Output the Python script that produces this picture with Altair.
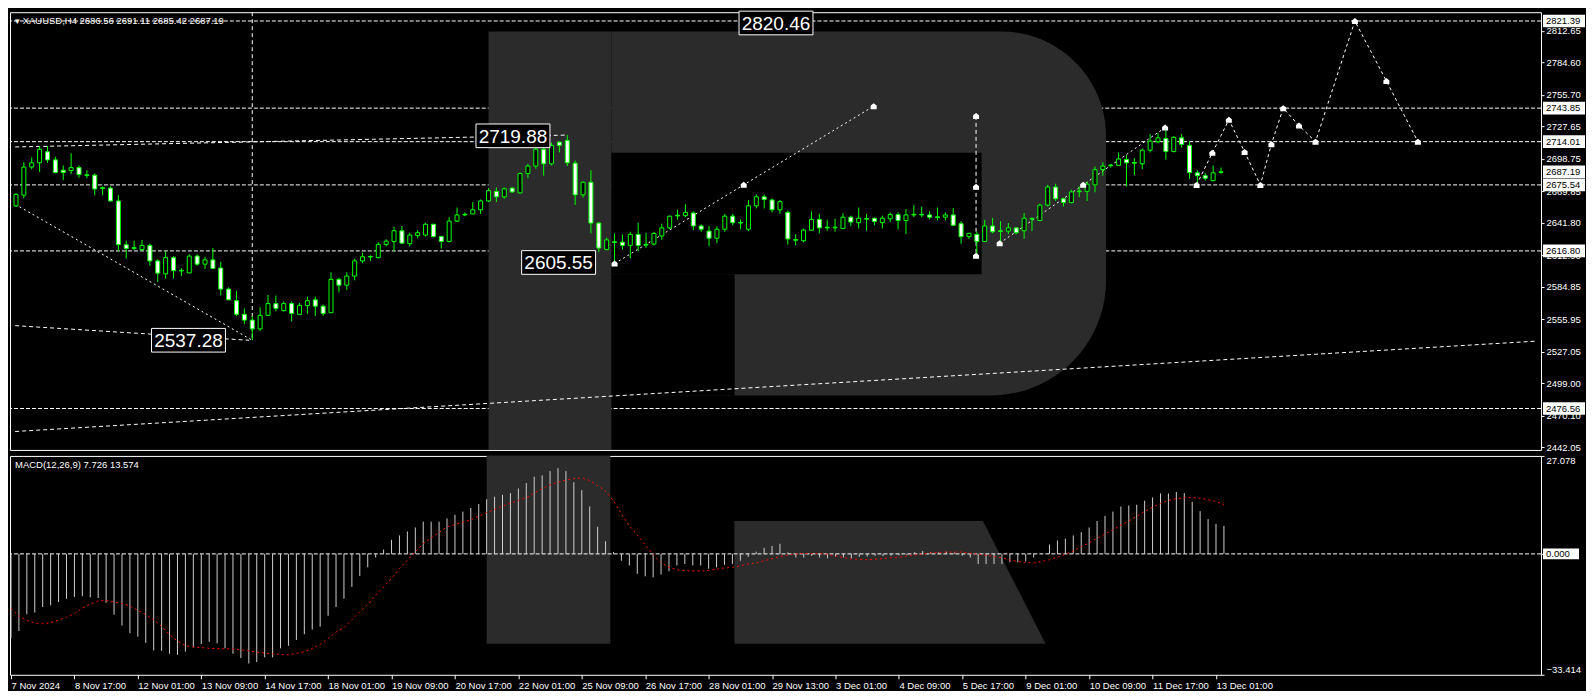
import json
import altair as alt
import pandas as pd

# ---------------- data ----------------
opens = [
    2656.9, 2666.4, 2691.4, 2695.2, 2705.0, 2697.8, 2688.6, 2688.3, 2690.9, 2684.5,
    2684.2, 2673.0, 2672.7, 2661.2, 2622.3, 2619.7, 2618.0, 2621.7, 2607.9, 2596.4,
    2610.8, 2599.5, 2597.2, 2612.2, 2605.0, 2608.8, 2601.6, 2582.8, 2572.5, 2560.4,
    2555.2, 2547.4, 2559.5, 2569.9, 2563.8, 2569.9, 2560.4, 2568.1, 2573.3, 2567.6,
    2561.8, 2591.5, 2586.3, 2594.4, 2607.9, 2611.9, 2610.8, 2622.6, 2625.2, 2634.7,
    2623.2, 2630.4, 2630.9, 2640.5, 2629.5, 2625.2, 2643.3, 2649.4, 2649.7, 2653.4,
    2661.2, 2669.8, 2664.9, 2672.7, 2668.4, 2685.7, 2692.3, 2707.3, 2694.3, 2713.6,
    2715.1, 2694.9, 2666.7, 2677.9, 2641.6, 2618.0, 2624.9, 2624.6, 2621.7, 2631.5,
    2622.6, 2622.9, 2630.1, 2637.3, 2648.5, 2648.2, 2650.5, 2639.0, 2634.4, 2628.1,
    2636.1, 2647.7, 2642.2, 2636.1, 2656.9, 2664.9, 2662.1, 2653.4, 2651.1, 2626.9,
    2625.8, 2635.3, 2644.8, 2637.9, 2637.3, 2636.7, 2646.8, 2641.9, 2645.6, 2645.9,
    2641.9, 2645.4, 2649.1, 2643.9, 2648.8, 2649.4, 2648.8, 2647.1, 2646.8, 2648.8,
    2641.0, 2629.5, 2631.5, 2625.2, 2639.0, 2634.7, 2634.4, 2637.3, 2634.7, 2645.6,
    2643.9, 2657.5, 2673.6, 2663.2, 2659.8, 2669.5, 2669.8, 2675.6, 2689.1, 2692.6,
    2692.9, 2698.1, 2695.5, 2694.3, 2706.4, 2713.9, 2716.8, 2705.3, 2717.4, 2710.7,
    2686.3, 2683.7, 2679.3, 2686.56,
]
highs = [
    2668.4, 2695.8, 2700.1, 2710.2, 2710.2, 2700.7, 2692.9, 2703.8, 2692.9, 2688.6,
    2685.7, 2674.2, 2674.2, 2666.4, 2626.0, 2626.0, 2626.6, 2623.2, 2609.3, 2616.5,
    2612.2, 2601.6, 2613.7, 2613.7, 2611.6, 2619.4, 2607.0, 2584.3, 2581.1, 2565.6,
    2558.9, 2566.7, 2577.7, 2577.1, 2571.9, 2571.9, 2570.5, 2576.2, 2576.2, 2569.0,
    2597.8, 2592.9, 2597.8, 2609.9, 2615.1, 2612.8, 2624.6, 2627.2, 2638.2, 2639.0,
    2633.0, 2635.3, 2641.9, 2641.0, 2630.4, 2646.8, 2655.4, 2651.1, 2660.3, 2662.6,
    2672.7, 2673.3, 2673.3, 2673.6, 2686.5, 2694.3, 2710.2, 2710.2, 2713.1, 2714.5,
    2719.9, 2697.2, 2678.5, 2688.6, 2642.5, 2628.6, 2632.4, 2631.5, 2633.8, 2641.9,
    2633.0, 2633.8, 2641.0, 2648.2, 2653.4, 2658.3, 2652.0, 2640.5, 2639.0, 2638.7,
    2649.7, 2649.7, 2644.8, 2662.1, 2667.0, 2667.0, 2663.5, 2662.1, 2652.6, 2631.5,
    2636.7, 2652.0, 2649.7, 2644.5, 2645.4, 2650.3, 2648.2, 2655.4, 2649.7, 2646.2,
    2648.2, 2651.1, 2651.1, 2654.0, 2657.5, 2656.3, 2652.0, 2655.4, 2651.1, 2654.9,
    2643.3, 2633.0, 2633.8, 2644.5, 2646.2, 2643.3, 2641.6, 2637.6, 2650.5, 2646.8,
    2658.9, 2675.6, 2676.5, 2664.1, 2671.3, 2674.2, 2678.5, 2692.0, 2695.8, 2694.3,
    2704.4, 2702.1, 2699.5, 2707.9, 2720.8, 2721.7, 2724.6, 2718.8, 2720.8, 2714.5,
    2688.6, 2686.3, 2692.9, 2691.11,
]
lows = [
    2656.0, 2663.5, 2689.4, 2687.1, 2695.2, 2685.7, 2679.9, 2685.1, 2681.9, 2681.4,
    2666.4, 2666.4, 2660.6, 2616.5, 2610.2, 2617.4, 2616.5, 2603.6, 2589.2, 2592.1,
    2592.1, 2594.4, 2597.0, 2603.6, 2600.7, 2600.7, 2577.1, 2572.8, 2558.9, 2551.7,
    2537.3, 2545.4, 2558.9, 2563.2, 2562.7, 2554.0, 2559.8, 2560.9, 2558.9, 2558.9,
    2561.5, 2580.0, 2582.0, 2590.6, 2605.9, 2607.9, 2610.2, 2620.9, 2616.5, 2622.9,
    2620.9, 2628.1, 2629.5, 2628.9, 2618.9, 2624.3, 2642.5, 2647.7, 2649.6, 2649.7,
    2660.3, 2660.3, 2663.2, 2668.4, 2667.8, 2681.4, 2690.0, 2683.7, 2692.9, 2704.4,
    2692.3, 2657.7, 2664.1, 2632.4, 2615.7, 2617.4, 2605.6, 2618.0, 2610.2, 2616.5,
    2619.4, 2621.7, 2626.6, 2636.1, 2644.5, 2646.8, 2635.3, 2633.8, 2620.9, 2623.7,
    2633.8, 2639.6, 2636.1, 2634.4, 2654.6, 2654.6, 2651.1, 2649.7, 2622.3, 2621.7,
    2624.6, 2634.7, 2632.4, 2634.7, 2633.8, 2636.1, 2638.7, 2636.7, 2634.7, 2639.6,
    2636.7, 2642.5, 2636.1, 2631.8, 2646.8, 2646.8, 2644.8, 2643.9, 2643.9, 2639.0,
    2623.2, 2627.5, 2612.2, 2624.6, 2632.4, 2624.6, 2631.8, 2631.5, 2627.5, 2634.4,
    2643.3, 2656.3, 2661.2, 2656.3, 2658.9, 2664.7, 2661.2, 2669.0, 2683.7, 2690.9,
    2692.3, 2674.2, 2684.2, 2689.4, 2704.4, 2712.5, 2698.1, 2704.4, 2708.7, 2680.8,
    2675.6, 2679.3, 2679.1, 2685.42,
]
closes = [
    2667.0, 2691.4, 2695.2, 2707.3, 2697.8, 2686.5, 2686.5, 2690.9, 2684.8, 2684.0,
    2671.9, 2672.4, 2661.2, 2622.3, 2618.9, 2619.1, 2621.7, 2607.9, 2597.0, 2610.8,
    2599.3, 2599.0, 2612.2, 2605.0, 2608.8, 2601.3, 2582.8, 2573.3, 2560.4, 2555.2,
    2547.4, 2559.5, 2569.9, 2565.6, 2569.9, 2561.2, 2568.4, 2572.5, 2567.6, 2561.2,
    2591.5, 2586.3, 2594.4, 2607.9, 2611.6, 2611.4, 2622.6, 2625.5, 2634.7, 2623.7,
    2630.9, 2633.0, 2640.5, 2629.5, 2625.2, 2643.3, 2648.8, 2648.8, 2653.4, 2661.2,
    2670.4, 2664.9, 2672.1, 2669.3, 2685.7, 2692.3, 2707.3, 2694.3, 2710.7, 2710.7,
    2695.2, 2666.7, 2677.9, 2641.6, 2619.4, 2626.6, 2624.3, 2621.7, 2631.5, 2621.7,
    2622.0, 2632.4, 2637.3, 2647.7, 2647.9, 2651.1, 2639.0, 2636.1, 2628.1, 2636.1,
    2647.7, 2641.9, 2641.6, 2656.9, 2664.9, 2662.6, 2653.4, 2660.6, 2627.5, 2626.3,
    2635.3, 2644.8, 2637.3, 2637.3, 2637.9, 2646.8, 2642.5, 2645.9, 2645.1, 2643.0,
    2645.9, 2649.1, 2643.9, 2648.8, 2649.4, 2648.8, 2646.8, 2646.5, 2648.8, 2639.6,
    2629.5, 2632.4, 2625.2, 2639.0, 2633.8, 2634.1, 2637.3, 2633.0, 2645.9, 2645.1,
    2657.5, 2673.6, 2663.2, 2659.8, 2669.3, 2670.1, 2676.2, 2689.1, 2692.3, 2693.2,
    2698.6, 2695.2, 2694.9, 2706.4, 2714.5, 2717.4, 2705.3, 2717.9, 2711.6, 2686.5,
    2683.7, 2681.4, 2686.3, 2687.19,
]
macd_hist = [
    -23.2, -21.3, -16.7, -16.2, -14.7, -14.2, -13.3, -12.4, -11.9, -11.7,
    -12.0, -12.2, -13.5, -16.8, -19.8, -21.9, -22.9, -24.6, -26.7, -26.8,
    -27.6, -27.9, -27.0, -25.9, -24.9, -24.3, -24.7, -26.1, -27.6, -28.8,
    -30.3, -29.9, -28.6, -28.6, -26.1, -25.4, -23.8, -22.2, -20.9, -20.1,
    -17.1, -14.7, -12.4, -9.1, -6.1, -3.7, -1.0, 1.2, 3.9, 5.1,
    6.2, 7.3, 8.9, 8.9, 8.9, 9.8, 10.8, 11.7, 12.7, 13.8,
    15.1, 15.8, 16.3, 16.8, 18.1, 19.6, 21.3, 21.7, 22.9, 23.7,
    22.9, 19.8, 17.6, 13.1, 7.5, 3.5, 0.5, -1.9, -3.2, -5.5,
    -6.2, -6.5, -5.7, -4.8, -3.2, -2.8, -3.2, -3.2, -4.1, -3.7,
    -3.0, -2.8, -1.9, -0.8, 0.6, 1.7, 2.2, 2.8, 0.4, -1.0,
    -1.0, -0.5, -1.0, -1.2, -0.7, -1.0, -1.2, -0.8, -0.7, -0.5,
    -0.6, -0.5, -0.4, -0.3, 0.5, 0.8, 0.5, 0.4, 0.6, 0.4,
    -0.5, -1.0, -2.8, -2.8, -2.8, -2.8, -2.3, -2.3, -2.1, -1.0,
    0.1, 2.6, 3.7, 4.2, 5.1, 6.0, 7.3, 9.1, 10.5, 11.7,
    13.1, 13.4, 13.6, 14.7, 15.6, 16.7, 16.7, 17.1, 16.8, 14.4,
    11.8, 9.6, 8.3, 7.726,
]
macd_signal = [
    -15.1, -17.2, -18.4, -19.1, -19.3, -19.0, -18.3, -17.5, -16.5, -15.0,
    -13.9, -13.0, -12.9, -13.3, -13.7, -14.4, -15.6, -16.8, -18.2, -20.0,
    -22.3, -24.1, -25.4, -25.7, -25.9, -26.1, -26.2, -26.2, -26.3, -26.5,
    -26.8, -27.2, -27.4, -27.6, -27.8, -27.9, -27.5, -27.0, -26.2, -25.0,
    -23.4, -21.6, -20.4, -18.2, -16.0, -14.0, -11.4, -9.1, -6.8, -4.0,
    -1.7, 0.6, 2.8, 4.4, 5.9, 7.5, 8.1, 8.8, 9.4, 10.4,
    11.4, 12.3, 13.2, 14.0, 14.8, 15.5, 16.8, 18.0, 19.1, 19.8,
    20.4, 20.8, 21.0, 20.3, 18.9, 17.3, 14.7, 11.1, 7.8, 5.2,
    2.5, -0.2, -2.4, -3.7, -4.4, -4.6, -4.7, -4.7, -4.6, -4.2,
    -3.9, -3.7, -3.3, -2.8, -2.5, -1.9, -1.3, -0.7, -0.3, 0.0,
    0.1, 0.1, 0.1, -0.1, -0.6, -1.0, -1.4, -1.5, -1.6, -1.5,
    -1.3, -1.1, -0.9, -0.6, -0.3, 0.0, 0.3, 0.4, 0.5, 0.5,
    0.5, 0.2, -0.1, -0.4, -0.7, -1.1, -1.7, -2.1, -2.4, -2.5,
    -2.1, -1.6, -0.9, -0.1, 0.8, 2.0, 3.1, 4.3, 5.5, 6.7,
    7.9, 9.1, 10.4, 11.7, 12.9, 13.9, 14.8, 15.3, 15.5, 15.6,
    15.4, 15.0, 14.5, 13.574,
]
date_labels = [
    "7 Nov 2024", "8 Nov 17:00", "12 Nov 01:00", "13 Nov 09:00", "14 Nov 17:00",
    "18 Nov 01:00", "19 Nov 09:00", "20 Nov 17:00", "22 Nov 01:00", "25 Nov 09:00",
    "26 Nov 17:00", "28 Nov 01:00", "29 Nov 13:00", "3 Dec 01:00", "4 Dec 09:00",
    "5 Dec 17:00", "9 Dec 01:00", "10 Dec 09:00", "11 Dec 17:00", "13 Dec 01:00",
]
price_ticks = [2812.65, 2784.60, 2755.70, 2727.65, 2698.75, 2669.85, 2641.80,
               2612.90, 2584.85, 2555.95, 2527.05, 2499.00, 2470.10, 2442.05]
level_lines = [2821.39, 2743.85, 2714.01, 2675.54, 2616.80, 2476.56]
marked_prices = [2821.39, 2743.85, 2714.01, 2687.19, 2675.54, 2616.80, 2476.56]
macd_ticks = [27.078, 0.0, -33.414]

callout_text = ["2820.46", "2719.88", "2605.55", "2537.28"]
callout_bar = [96.5, 63.1, 68.9, 21.9]
callout_price = [2819.6, 2719.2, 2606.5, 2537.3]

# drawn trend lines (bar index, price)
dotted_lines = {
    "A": ([-0.1, 30.0], [2658.3, 2537.28]),
    "F": ([76.0, 92.4, 108.9], [2605.55, 2675.6, 2745.6]),
    "H": ([124.9, 135.5, 145.9], [2623.7, 2675.6, 2726.6]),
}
dashed_lines = {
    "B": ([-0.1, 29.6], [2550.3, 2537.28]),
    "C": ([-0.1, 193.0], [2456.1, 2536.5]),
    "D": ([-0.1, 70.0], [2709.3, 2719.88]),
    "V": ([30.0, 30.0], [2829.2, 2537.28]),
    "G": ([121.9, 121.9], [2736.95, 2612.5]),
}
forecast_bar = [149.9, 151.9, 154.0, 156.0, 158.0, 159.4, 160.9, 162.9, 165.0, 170.0, 174.0, 178.0]
forecast_price = [2675.54, 2704.1, 2733.5, 2704.9, 2675.54, 2711.8, 2743.85, 2728.3, 2714.01, 2821.39, 2768.0, 2714.01]
marker_bar = [76.0, 92.4, 108.9, 121.9, 121.9, 121.9, 124.9, 135.5, 145.9]
marker_price = [2605.55, 2675.6, 2745.6, 2736.95, 2673.8, 2612.5, 2623.7, 2675.6, 2726.6]

# watermark "R" outline in (bar, price) / (bar, macd) units
wm_stem_bars = [60.0, 75.6]
wm_bowl_bars = [75.6, 138.4]
wm_bowl_prices = [2488.1, 2812.14]
wm_cut_bars = [[75.6, 122.6], [75.6, 91.25]]
wm_cut_prices = [[2596.1, 2704.1], [2488.1, 2596.1]]
wm_stem_macd_bottom = -24.81
wm_leg_bars = [91.25, 122.6, 130.5]
wm_leg_top = [9.06, 9.06, -24.81]

# ---------------- layout / style ----------------
W, HU, HL = 1532, 438, 219
X_DOMAIN = [-0.125, 193.0]
P_DOMAIN = [2439.7, 2829.2]
M_DOMAIN = [-33.414, 27.078]
GREEN = "#00ff00"
GRAY = "#2b2b2b"
FONT = "Liberation Sans"
FS = 9.5

xs = alt.Scale(domain=X_DOMAIN, nice=False, zero=False)
ps = alt.Scale(domain=P_DOMAIN, nice=False, zero=False)
ms = alt.Scale(domain=M_DOMAIN, nice=False, zero=False)

price_axis = alt.Axis(orient="right", values=price_ticks, format=".2f", labelColor="#ffffff",
                      tickColor="#ffffff", tickSize=3, labelFont=FONT, labelFontSize=FS,
                      domain=False, grid=False, labelPadding=2, title=None, labelOverlap=False)
macd_axis = alt.Axis(orient="right", values=macd_ticks, format=".3f", labelColor="#ffffff",
                     tickColor="#ffffff", tickSize=3, labelFont=FONT, labelFontSize=FS,
                     domain=False, grid=False, labelPadding=2, title=None, labelFlush=True,
                     labelOverlap=False)
labels_js = json.dumps(date_labels)
date_axis = alt.Axis(orient="bottom", values=list(range(0, 8 * len(date_labels), 8)),
                     labelExpr=f"{labels_js}[round(datum.value / 8)]", labelAlign="left",
                     labelColor="#ffffff", tickColor="#ffffff", tickSize=4, labelPadding=2,
                     labelFont=FONT, labelFontSize=FS, domain=False, grid=False, title=None,
                     labelOverlap=False)


def xu(f):
    return alt.X(f"{f}:Q", scale=xs, axis=None)


def xl(f):
    return alt.X(f"{f}:Q", scale=xs, axis=date_axis)


def pq(f):
    return alt.Y(f"{f}:Q", scale=ps, axis=price_axis)


def mq(f):
    return alt.Y(f"{f}:Q", scale=ms, axis=macd_axis)


n = len(opens)
candles = pd.DataFrame({"b": list(range(n)), "o": opens, "h": highs, "l": lows, "c": closes})
candles["lo"] = candles[["o", "c"]].min(axis=1)
candles["hi"] = candles[["o", "c"]].max(axis=1)
candles["fill"] = ["#000000" if c >= o else "#ffffff" for o, c in zip(opens, closes)]

# ---------- upper panel ----------
wm_stem_up = alt.Chart(pd.DataFrame({"x": [wm_stem_bars[0]], "x2": [wm_stem_bars[1]],
                                      "y": [P_DOMAIN[0]], "y2": [wm_bowl_prices[1]]})).mark_rect(
    color=GRAY).encode(x=xu("x"), x2="x2:Q", y=pq("y"), y2="y2:Q")
wm_bowl = alt.Chart(pd.DataFrame({"x": [wm_bowl_bars[0]], "x2": [wm_bowl_bars[1]],
                                   "y": [wm_bowl_prices[0]], "y2": [wm_bowl_prices[1]]})).mark_rect(
    color=GRAY, cornerRadiusTopRight=105, cornerRadiusBottomRight=115).encode(
    x=xu("x"), x2="x2:Q", y=pq("y"), y2="y2:Q")
wm_cut = alt.Chart(pd.DataFrame({"x": [c[0] for c in wm_cut_bars], "x2": [c[1] for c in wm_cut_bars],
                                  "y": [c[0] for c in wm_cut_prices], "y2": [c[1] for c in wm_cut_prices]})).mark_rect(
    color="#000000").encode(x=xu("x"), x2="x2:Q", y=pq("y"), y2="y2:Q")

levels = alt.Chart(pd.DataFrame({"p": level_lines})).mark_rule(
    color="#ffffff", strokeDash=[4, 2], strokeWidth=1).encode(y=pq("p"))


def lines_df(d):
    rows = []
    for key, (bs, prs) in d.items():
        for k, (b, p) in enumerate(zip(bs, prs)):
            rows.append({"id": key, "k": k, "b": b, "p": p})
    return pd.DataFrame(rows)


dotted = alt.Chart(lines_df(dotted_lines)).mark_line(
    color="#ffffff", strokeDash=[2, 3], strokeWidth=1).encode(
    x=xu("b"), y=pq("p"), detail="id:N", order="k:Q")
dashed = alt.Chart(lines_df(dashed_lines)).mark_line(
    color="#ffffff", strokeDash=[4, 3], strokeWidth=1).encode(
    x=xu("b"), y=pq("p"), detail="id:N", order="k:Q")

wicks = alt.Chart(candles).mark_rule(color=GREEN, strokeWidth=1).encode(
    x=xu("b"), y=pq("l"), y2="h:Q")
bodies = alt.Chart(candles).mark_bar(size=4, stroke=GREEN, strokeWidth=1).encode(
    x=xu("b"), y=pq("lo"), y2="hi:Q", fill=alt.Fill("fill:N", scale=None))

forecast_df = pd.DataFrame({"b": forecast_bar, "p": forecast_price, "k": list(range(len(forecast_bar)))})
forecast = alt.Chart(forecast_df).mark_line(
    color="#ffffff", strokeDash=[3, 3], strokeWidth=1).encode(x=xu("b"), y=pq("p"), order="k:Q")

HOUSE = "M0,-1L1,-0.2L1,1L-1,1L-1,-0.2Z"
marks_df = pd.DataFrame({"b": marker_bar + forecast_bar, "p": marker_price + forecast_price})
markers = alt.Chart(marks_df).mark_point(
    shape=HOUSE, filled=True, color="#ffffff", size=36, opacity=1).encode(x=xu("b"), y=pq("p"))

call_df = pd.DataFrame({"b": callout_bar, "p": callout_price, "t": callout_text})
call_box = alt.Chart(call_df).mark_point(
    shape="M-1,-0.32H1V0.32H-1Z", size=74 * 74, filled=True, fill="#000000",
    stroke="#ffffff", strokeWidth=1, opacity=1).encode(x=xu("b"), y=pq("p"))
call_txt = alt.Chart(call_df).mark_text(
    color="#ffffff", font=FONT, fontSize=19, align="center", baseline="middle", dy=1).encode(
    x=xu("b"), y=pq("p"), text="t:N")

mk_df = pd.DataFrame({"p": marked_prices, "t": [f"{v:.2f}" for v in marked_prices]})
mk_box = alt.Chart(mk_df).mark_point(
    shape="M-1,-0.3H1V0.3H-1Z", size=42 * 42, filled=True, color="#ffffff", opacity=1).encode(
    x=alt.value(W + 23), y=pq("p"))
mk_txt = alt.Chart(mk_df).mark_text(
    color="#000000", font=FONT, fontSize=FS, align="left", baseline="middle").encode(
    x=alt.value(W + 5), y=pq("p"), text="t:N")

title_up = alt.Chart(pd.DataFrame({"t": ["\u25be  XAUUSD,H4  2686.56 2691.11 2685.42 2687.19"]})).mark_text(
    color="#ffffff", font=FONT, fontSize=FS, align="left", baseline="middle").encode(
    x=alt.value(5), y=alt.value(9), text="t:N")

upper = alt.layer(
    levels, wm_stem_up, wm_bowl, wm_cut, dashed, dotted, wicks, bodies,
    forecast, markers, call_box, call_txt, mk_box, mk_txt, title_up,
).properties(width=W, height=HU)

# ---------- lower (MACD) panel ----------
macd_df = pd.DataFrame({"b": list(range(n)), "h": macd_hist, "s": macd_signal, "z": [0.0] * n})
hist = alt.Chart(macd_df).mark_rule(color="#cfcfcf", strokeWidth=1).encode(
    x=xl("b"), y=mq("z"), y2="h:Q")

wm_stem_lo = alt.Chart(pd.DataFrame({"x": [wm_stem_bars[0]], "x2": [wm_stem_bars[1]],
                                      "y": [wm_stem_macd_bottom], "y2": [M_DOMAIN[1]]})).mark_rect(
    color=GRAY).encode(x=xl("x"), x2="x2:Q", y=mq("y"), y2="y2:Q")
wm_leg = alt.Chart(pd.DataFrame({"x": wm_leg_bars, "top": wm_leg_top,
                                  "bot": [wm_stem_macd_bottom] * len(wm_leg_bars)})).mark_area(
    color=GRAY, opacity=1).encode(x=xl("x"), y=mq("top"), y2="bot:Q")

zero_line = alt.Chart(pd.DataFrame({"v": [0.0]})).mark_rule(
    color="#ffffff", strokeDash=[4, 2], strokeWidth=1).encode(y=mq("v"))
signal = alt.Chart(macd_df).mark_line(color="#ff0000", strokeDash=[2, 3], strokeWidth=1).encode(
    x=xl("b"), y=mq("s"))

zero_box = alt.Chart(pd.DataFrame({"v": [0.0], "t": ["0.000"]})).mark_point(
    shape="M-1,-0.3H1V0.3H-1Z", size=36 * 36, filled=True, color="#ffffff", opacity=1).encode(
    x=alt.value(W + 20), y=mq("v"))
zero_txt = alt.Chart(pd.DataFrame({"v": [0.0], "t": ["0.000"]})).mark_text(
    color="#000000", font=FONT, fontSize=FS, align="left", baseline="middle").encode(
    x=alt.value(W + 5), y=mq("v"), text="t:N")
title_lo = alt.Chart(pd.DataFrame({"t": ["MACD(12,26,9) 7.726 13.574"]})).mark_text(
    color="#ffffff", font=FONT, fontSize=FS, align="left", baseline="middle").encode(
    x=alt.value(5), y=alt.value(9), text="t:N")

lower = alt.layer(
    hist, wm_stem_lo, wm_leg, zero_line, signal, zero_box, zero_txt, title_lo,
).properties(width=W, height=HL)

# redraw histogram above the watermark: put watermark first by ordering layers
lower = alt.layer(
    hist.encode(opacity=alt.value(0)), wm_stem_lo, wm_leg, zero_line, hist, signal,
    zero_box, zero_txt, title_lo,
).properties(width=W, height=HL)

chart = alt.vconcat(upper, lower, spacing=2).properties(
    padding=0, background="#000000"
).configure_view(stroke="#ffffff", strokeWidth=1, fill="#000000")

chart.save("out.html", embed_options={"renderer": "svg", "actions": False})
